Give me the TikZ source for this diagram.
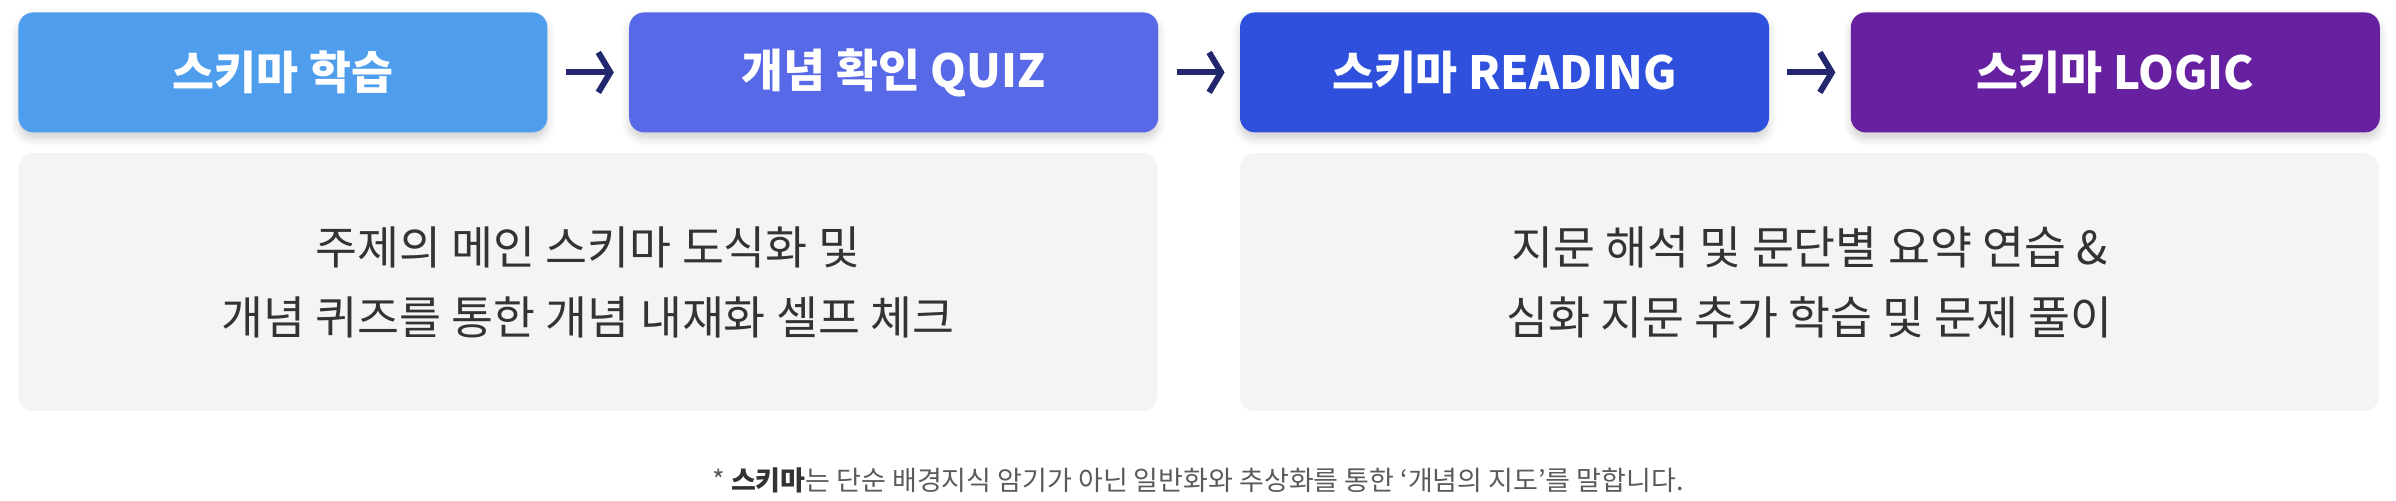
\documentclass[tikz,border=0pt]{standalone}
\usepackage{fontspec}
\setmainfont{Noto Sans CJK KR}
\usepackage{tikz}
\usetikzlibrary{arrows.meta,positioning,shadows.blur}

\definecolor{schemablue}{RGB}{79,158,238}
\definecolor{quizblue}{RGB}{88,105,232}
\definecolor{readblue}{RGB}{46,80,220}
\definecolor{logicpurple}{RGB}{103,32,160}
\definecolor{arrownavy}{RGB}{35,40,110}
\definecolor{descgray}{RGB}{243,244,246}
\definecolor{desctext}{RGB}{51,51,51}
\definecolor{notegray}{RGB}{90,90,90}

\begin{document}
\begin{tikzpicture}[stage/.style={rectangle, rounded corners=7.5pt, minimum height=60pt, minimum width=264.5pt, inner sep=0pt, align=center, text=white, font=\bfseries\fontsize{22.8}{26}\selectfont, blur shadow={shadow xshift=0pt, shadow yshift=-3pt, shadow blur radius=4pt, shadow opacity=18}}, desc/.style={rectangle, rounded corners=7.5pt, fill=descgray, minimum height=129pt, minimum width=569.5pt, inner sep=0pt, align=center, text=desctext, font=\fontsize{22.8}{35}\selectfont}, arrow/.style={-{Straight Barb[length=6pt, width=20pt]}, line width=3pt, draw=arrownavy, shorten <=9pt, shorten >=7.5pt}, node distance=10pt and 40.5pt]
        \useasboundingbox (0,0) rectangle (1198pt,-250pt);
        \node[stage, fill=schemablue, anchor=north west] (schema) at (9pt,-6pt) {스키마 학습};
        \node[stage, fill=quizblue, right=of schema] (quiz) {개념 확인 QUIZ};
        \node[stage, fill=readblue, right=of quiz] (reading) {스키마 READING};
        \node[stage, fill=logicpurple, right=of reading] (logic) {스키마 LOGIC};
        \node[desc, below=of schema.south west, anchor=north west] (concept) {주제의 메인 스키마 도식화 및\\개념 퀴즈를 통한 개념 내재화 셀프 체크};
        \node[desc, below=of reading.south west, anchor=north west] (practice) {지문 해석 및 문단별 요약 연습 \&\\심화 지문 추가 학습 및 문제 풀이};
        \node[text=notegray, font=\fontsize{13.5}{16}\selectfont] (footnote) at (599pt,-240pt) {* {\bfseries\color{desctext}스키마}는 단순 배경지식 암기가 아닌 일반화와 추상화를 통한 ‘개념의 지도’를 말합니다.};
        \draw[arrow] (schema) -- (quiz);
        \draw[arrow] (quiz) -- (reading);
        \draw[arrow] (reading) -- (logic);
      \end{tikzpicture}
\end{document}
